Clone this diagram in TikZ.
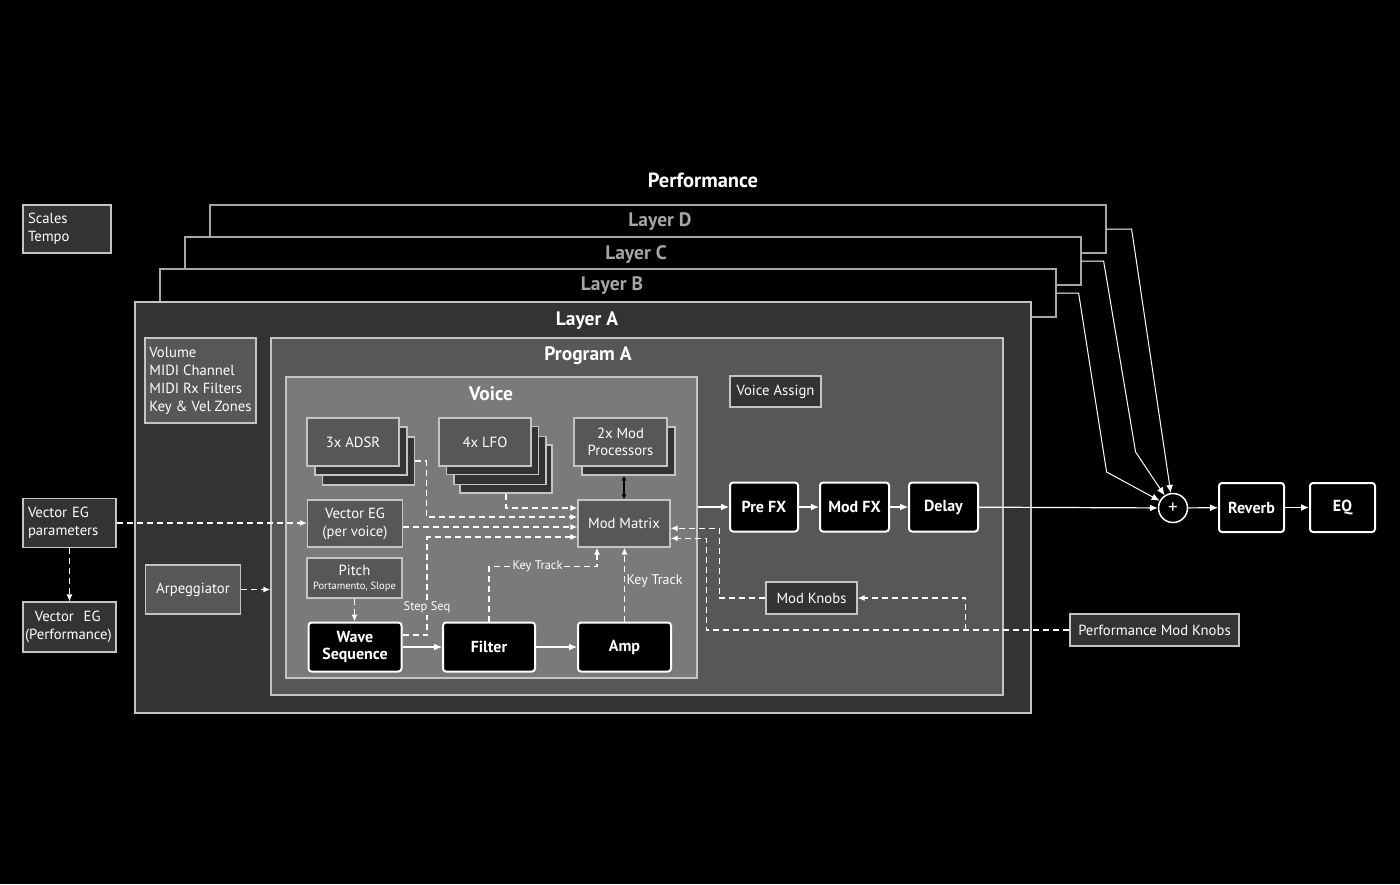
\documentclass[tikz,border=0pt]{standalone}
\usepackage{fontspec}
\setmainfont{PT Sans}
\usetikzlibrary{arrows.meta,positioning,calc}
\definecolor{lyrgray}{HTML}{333333}
\definecolor{prggray}{HTML}{575757}
\definecolor{vcegray}{HTML}{7A7A7A}
\definecolor{edgegray}{HTML}{C4C4C4}
\definecolor{dimgray}{HTML}{A6A6A6}
\tikzset{
  % big grey frames with a light edge
  frame/.style   = {rectangle, draw=edgegray, line width=1.2pt, fill=#1, inner sep=0pt},
  frame/.default = lyrgray,
  lbox/.style    = {rectangle, draw=edgegray, line width=1.2pt, fill=#1, text=white,
                    align=center, inner sep=3pt, font=\fontsize{14.7}{18}\selectfont},
  lbox/.default  = prggray,
  stage/.style   = {rectangle, rounded corners=3pt, draw=white, line width=2pt, fill=black,
                    text=white, align=center, inner sep=3pt,
                    font=\bfseries\fontsize{16}{17}\selectfont},
  flow/.style    = {-{Latex[length=8pt,width=7pt]}, white, line width=1.2pt},
  mod/.style     = {-{Latex[length=7pt,width=6pt]}, white, line width=1.2pt,
                    dash pattern=on 6pt off 4pt},
  title/.style   = {font=\bfseries\fontsize{19.5}{22}\selectfont, text=white, inner sep=0pt},
  tag/.style     = {font=\fontsize{12.5}{15}\selectfont, text=white, inner sep=1.5pt},
}

\begin{document}
\begin{tikzpicture}[x=1pt,y=-1pt]
% --- backdrop -------------------------------------------------------------
\fill[black] (0,0) rectangle (1400,884);
\useasboundingbox (0,0) rectangle (1400,884);
% --- performance and the four layers --------------------------------------
\node[title, font=\bfseries\fontsize{20.5}{22}\selectfont] (perf) at (703,180) {Performance};
\node[lbox=lyrgray, text width=78pt, align=left, inner sep=5pt, minimum height=48pt]
  (scales) at (67,229) {Scales\\Tempo};
\node[frame=black, draw=dimgray, minimum width=896pt, minimum height=48pt] (layerD) at (658,229) {};
\node[title, text=dimgray] (layerDt) at (660,222) {Layer D};
\node[frame=black, draw=dimgray, minimum width=896pt, minimum height=48pt] (layerC) at (633,261) {};
\node[title, text=dimgray] (layerCt) at (636,255) {Layer C};
\node[frame=black, draw=dimgray, minimum width=896pt, minimum height=48pt] (layerB) at (608,293) {};
\node[title, text=dimgray] (layerBt) at (612,286) {Layer B};
\node[frame, minimum width=896pt, minimum height=411pt] (layerA) at (583,507.5) {};
\node[title] (layerAt) at (587,321) {Layer A};
% --- layer A contents -----------------------------------------------------
\node[lbox, minimum width=111pt, minimum height=85pt, align=left] (volume) at (200.5,380.5)
  {Volume\\MIDI Channel\\MIDI Rx Filters\\Key \& Vel Zones};
\node[lbox, minimum width=95pt, minimum height=49pt] (arp) at (193,589.5) {Arpeggiator};
\node[frame=prggray, minimum width=732pt, minimum height=357pt] (progA) at (637,516.5) {};
\node[title] (progAt) at (588,356) {Program A};
\node[lbox=lyrgray, minimum width=91pt, minimum height=31pt] (assign) at (775.5,391.5) {Voice Assign};
% --- voice ----------------------------------------------------------------
\node[frame=vcegray, minimum width=411pt, minimum height=301pt] (voice) at (491.5,527.5) {};
\node[title] (voicet) at (491,394) {Voice};
\node[lbox=lyrgray, minimum width=92pt, minimum height=48pt] (adsr2) at (368.5,461) {};
\node[lbox=lyrgray, minimum width=92pt, minimum height=48pt] (adsr1) at (361,451) {};
\node[lbox, minimum width=92pt, minimum height=48pt] (adsr) at (353,442) {3x ADSR};
\foreach \i/\dx/\dy in {3/21/27, 2/15/18.5, 1/7.5/8.5}
  \node[lbox=lyrgray, minimum width=92pt, minimum height=48pt] (lfo\i) at ({485+\dx},{442+\dy}) {};
\node[lbox, minimum width=92pt, minimum height=48pt] (lfo) at (485,442) {4x LFO};
\node[lbox=lyrgray, minimum width=93pt, minimum height=48pt] (modproc1) at (628.5,451) {};
\node[lbox, minimum width=93pt, minimum height=48pt, font=\fontsize{14.7}{17}\selectfont]
  (modproc) at (620.5,442) {2x Mod\\Processors};
\node[lbox, minimum width=92pt, minimum height=47pt] (modmatrix) at (624,523.5) {Mod Matrix};
\node[lbox, minimum width=95pt, minimum height=47pt] (vegvoice) at (355,523.5) {Vector EG\\(per voice)};
\node[lbox, minimum width=95pt, minimum height=40pt] (pitch) at (354.5,578)
  {Pitch\\[-4pt]{\fontsize{10.5}{12}\selectfont Portamento, Slope}};
\node[stage, minimum width=93pt, minimum height=49pt] (wave) at (355,647) {Wave\\Sequence};
\node[stage, minimum width=92pt, minimum height=49pt] (filter) at (489,647) {Filter};
\node[stage, minimum width=93pt, minimum height=49pt] (amp) at (624.5,647) {Amp};
% --- effects chain --------------------------------------------------------
\node[stage, minimum width=68pt, minimum height=49pt] (prefx) at (764,507) {Pre FX};
\node[stage, minimum width=69pt, minimum height=49pt] (modfx) at (854.5,507) {Mod FX};
\node[stage, minimum width=69pt, minimum height=49pt] (delay) at (943.5,507) {Delay};
\node[circle, draw=white, line width=1.5pt, fill=black, text=white, minimum size=29pt,
      inner sep=0pt, font=\fontsize{19}{19}\selectfont] (sum) at (1173,508) {+};
\node[stage, minimum width=65pt, minimum height=49pt] (reverb) at (1251.5,507.5) {Reverb};
\node[stage, minimum width=65pt, minimum height=49pt] (eq) at (1342.5,507.5) {EQ};
% --- knobs and vector EG outside ------------------------------------------
\node[lbox=lyrgray, minimum width=91pt, minimum height=32pt] (modknobs) at (811.5,598) {Mod Knobs};
\node[lbox=lyrgray, minimum width=169pt, minimum height=32pt] (perfknobs) at (1154.5,630)
  {Performance Mod Knobs};
\node[lbox=lyrgray, text width=83pt, align=left, inner sep=5pt, minimum height=49pt]
  (vegparams) at (69.5,523) {Vector EG\\parameters};
\node[lbox=lyrgray, text width=89pt, align=left, inner sep=2pt, minimum height=50pt]
  (vegperf) at (69.5,627) {\ \ Vector\ \ EG\\(Performance)};
% --- audio path -----------------------------------------------------------
\draw[flow] (wave) -- (filter);
\draw[flow] (filter) -- (amp);
\draw[flow] (voice.east |- prefx.west) -- (prefx);
\draw[flow] (prefx) -- (modfx);
\draw[flow] (modfx) -- (delay);
\draw[flow] (delay) -- (sum);
\draw[flow] (sum) -- (reverb);
\draw[flow] (reverb) -- (eq);
\draw[flow, line width=1pt] (layerD.east) -- ++(25,0) -- (sum);
\draw[flow, line width=1pt] (layerC.east) -- ++(22,0) -- ++(32,191) -- (sum);
\draw[flow, line width=1pt] (layerB.east) -- ++(22,0) -- ++(28,179) -- (sum);
% --- modulation -----------------------------------------------------------
\draw[{Latex[length=5pt,width=5pt]}-{Latex[length=5pt,width=5pt]}, black, line width=1.2pt]
  (modproc1.south -| modmatrix.north) -- (modmatrix.north);
\draw[mod] (lfo3.south) |- ([yshift=15.5pt]modmatrix.west);
\draw[mod] (adsr2.east) -- ++(11,0) |- ([yshift=6.5pt]modmatrix.west);
\draw[mod] ([yshift=-3.5pt]vegvoice.east) -- ([yshift=-3.5pt]modmatrix.west);
\draw[mod] ([yshift=12pt]wave.east) -- ++(24.5,0) |- ([yshift=-13.5pt]modmatrix.west)
  node[pos=.14, tag, fill=vcegray] {Step Seq};
\draw[mod] (filter.north) -- ++(0,-55) -| ([xshift=-27pt]modmatrix.south)
  node[pos=.225, tag, fill=vcegray] {Key Track};
\draw[mod] (amp.north) -- (amp.north |- modmatrix.south)
  node[pos=.55, right, tag, font=\fontsize{14}{15}\selectfont] {Key Track};
\draw[mod] (pitch.south) -- (pitch.south |- wave.north);
\draw[mod] (modknobs.west) -- ++(-46,0) |- ([yshift=-4.8pt]modmatrix.east);
\draw[mod] (perfknobs.west) -| ([xshift=35.5pt,yshift=-14.8pt]modmatrix.east)
  -- ([yshift=-14.8pt]modmatrix.east);
\path (modknobs.east) ++(108,0) coordinate (knobtap);
\draw[mod] (knobtap |- perfknobs.west) |- (modknobs.east);
\draw[mod] (vegparams.east) -- (vegparams.east -| vegvoice.west);
\draw[mod] (vegparams) -- (vegperf);
\draw[mod] (arp.east) -- (arp.east -| progA.west);
\end{tikzpicture}
\end{document}
